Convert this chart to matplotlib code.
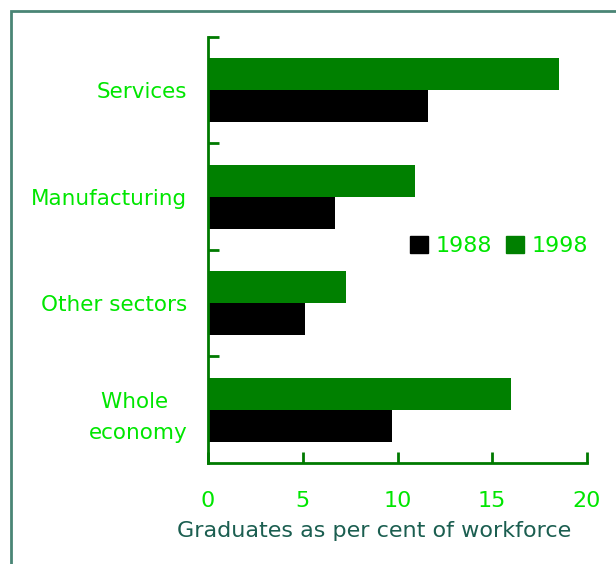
import matplotlib
matplotlib.use('Agg')
import matplotlib.pyplot as plt
from matplotlib.patches import Patch, Rectangle
import numpy as np

plt.rcParams['font.family'] = ['DejaVu Sans']

# data (top to bottom as in the picture)
sectors = ['Services', 'Manufacturing', 'Other sectors', 'Whole \neconomy']
vals_1988 = [11.6, 6.7, 5.1, 9.7]
vals_1998 = [18.5, 10.9, 7.3, 16.0]
xticks = [0, 5, 10, 15, 20]

BRIGHT = '#00e600'
AXIS = '#007a00'
BAR_GREEN = '#008000'
TEAL = '#1b5e50'

fig = plt.figure(figsize=(6.16, 5.64), dpi=100)
ax = fig.add_axes([0.3377, 0.1791, 0.6152, 0.7553])

n = len(sectors)
ypos = n - 0.5 - np.arange(n)
h = 0.3
ax.barh(ypos + h / 2, vals_1998, height=h, color=BAR_GREEN, label='1998')
ax.barh(ypos - h / 2, vals_1988, height=h, color='black', label='1988')

ax.set_xlim(0, 20)
ax.set_ylim(0, n)
ax.set_xticks(xticks)
ax.set_xticklabels([str(t) for t in xticks])
ax.set_yticks(ypos)
ax.set_yticklabels(sectors)
ax.set_yticks(np.arange(1, n + 1), minor=True)

for s in ['top', 'right']:
    ax.spines[s].set_visible(False)
for s in ['left', 'bottom']:
    ax.spines[s].set_color(AXIS)
    ax.spines[s].set_linewidth(2)

ax.tick_params(axis='x', direction='in', length=8, width=2, color=AXIS,
               labelcolor=BRIGHT, labelsize=16, pad=20)
ax.tick_params(axis='y', which='major', length=0, labelcolor=BRIGHT,
               labelsize=15.5, pad=15)
ax.tick_params(axis='y', which='minor', direction='in', length=8, width=2,
               color=AXIS)
for lab in ax.get_yticklabels():
    lab.set_multialignment('center')
    lab.set_linespacing(1.7)

ax.set_xlabel('Graduates as per cent of workforce', color=TEAL, fontsize=16)
ax.xaxis.set_label_coords(0.438, -0.136)

handles = [Patch(color='black'), Patch(color=BAR_GREEN)]
leg = ax.legend(handles, ['1988', '1998'], ncol=2, loc='center',
                bbox_to_anchor=(0.768, 0.509), frameon=False, fontsize=16,
                handlelength=0.8, handleheight=0.8, handletextpad=0.35,
                columnspacing=0.65, borderpad=0)
for t in leg.get_texts():
    t.set_color(BRIGHT)

# outer frame (only top/left edges fall inside the image)
fig.patches.append(Rectangle((11 / 616, -0.1), 1.2, 1 - 11 / 564 + 0.1,
                             transform=fig.transFigure, fill=False,
                             edgecolor='#4a8575', linewidth=2))

fig.savefig('out.png', dpi=100)
